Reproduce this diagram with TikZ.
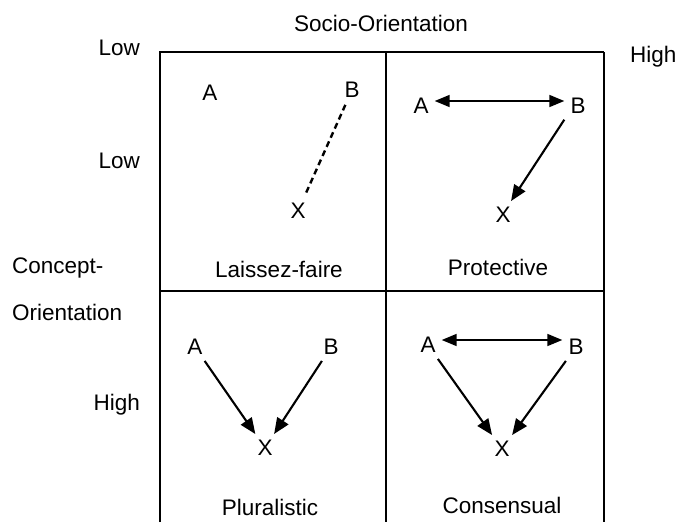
\documentclass[tikz,border=0pt]{standalone}
\usepackage{fontspec}
\setmainfont{Liberation Sans}
\usepackage{tikz}
\usetikzlibrary{arrows.meta, positioning}

\begin{document}
\begin{tikzpicture}[x=1pt, y=-1pt, font=\fontsize{22.5}{26}\selectfont,
    letter/.style={inner sep=6pt},
    tip/.style={-{Triangle[length=16pt,width=13pt]}, line width=2.1pt},
    mutual/.style={{Triangle[length=15pt,width=12pt]}-{Triangle[length=15pt,width=12pt]}, line width=1.7pt}]
    \useasboundingbox (0,0) rectangle (677,522);

    % Grid of the four cells
    \draw[line width=1.6pt] (160,522) -- (160,52) -- (604,52);
    \draw[line width=1.6pt] (386,52) -- (386,522);
    \draw[line width=2.3pt] (604,52) -- (604,522);
    \draw[line width=1.6pt] (160,291) -- (604,291);

    % Axis labels
    \node[anchor=base] (socio) at (381,31.5) {Socio-Orientation};
    \node[anchor=base east, inner sep=0pt] (socioLow) at (140,55) {Low};
    \node[anchor=base west, inner sep=0pt] (socioHigh) at (630,62) {High};
    \node[anchor=base east, inner sep=0pt] (conLow) at (140,168) {Low};
    \node[anchor=base west, inner sep=0pt] (concept) at (12,273) {Concept-};
    \node[anchor=base west, inner sep=0pt] (orient) at (12,320) {Orientation};
    \node[anchor=base east, inner sep=0pt] (conHigh) at (140,410) {High};

    % Laissez-faire
    \node[letter] (lfA) at (210,93) {A};
    \node[letter] (lfB) at (352,90) {B};
    \node[letter] (lfX) at (298,211) {X};
    \node[anchor=base] (lf) at (279,277) {Laissez-faire};
    \draw[line width=2.4pt, dash pattern=on 6pt off 4pt, shorten <=1pt, shorten >=2pt] (lfB) -- (lfX);

    % Protective
    \node[letter] (prA) at (421,106) {A};
    \node[letter] (prB) at (578,106) {B};
    \node[letter] (prX) at (503,215) {X};
    \node[anchor=base] (pr) at (498,275) {Protective};
    \draw[mutual] ([yshift=5pt]prA.east) -- ([yshift=5pt]prB.west);
    \draw[tip] (prB.225) -- (prX.60);

    % Pluralistic
    \node[letter] (plA) at (195,347) {A};
    \node[letter] (plB) at (331,347) {B};
    \node[letter] (plX) at (265,448) {X};
    \node[anchor=base] (pl) at (270,515) {Pluralistic};
    \draw[tip] (plA) -- (plX);
    \draw[tip] (plB) -- (plX);

    % Consensual
    \node[letter] (coA) at (428,345) {A};
    \node[letter] (coB) at (576,347) {B};
    \node[letter] (coX) at (502,449) {X};
    \node[anchor=base] (co) at (502,513) {Consensual};
    \draw[mutual] ([yshift=5pt]coA.east) -- ([yshift=7pt]coB.west);
    \draw[tip] (coA) -- (coX);
    \draw[tip] (coB) -- (coX);
\end{tikzpicture}
\end{document}
